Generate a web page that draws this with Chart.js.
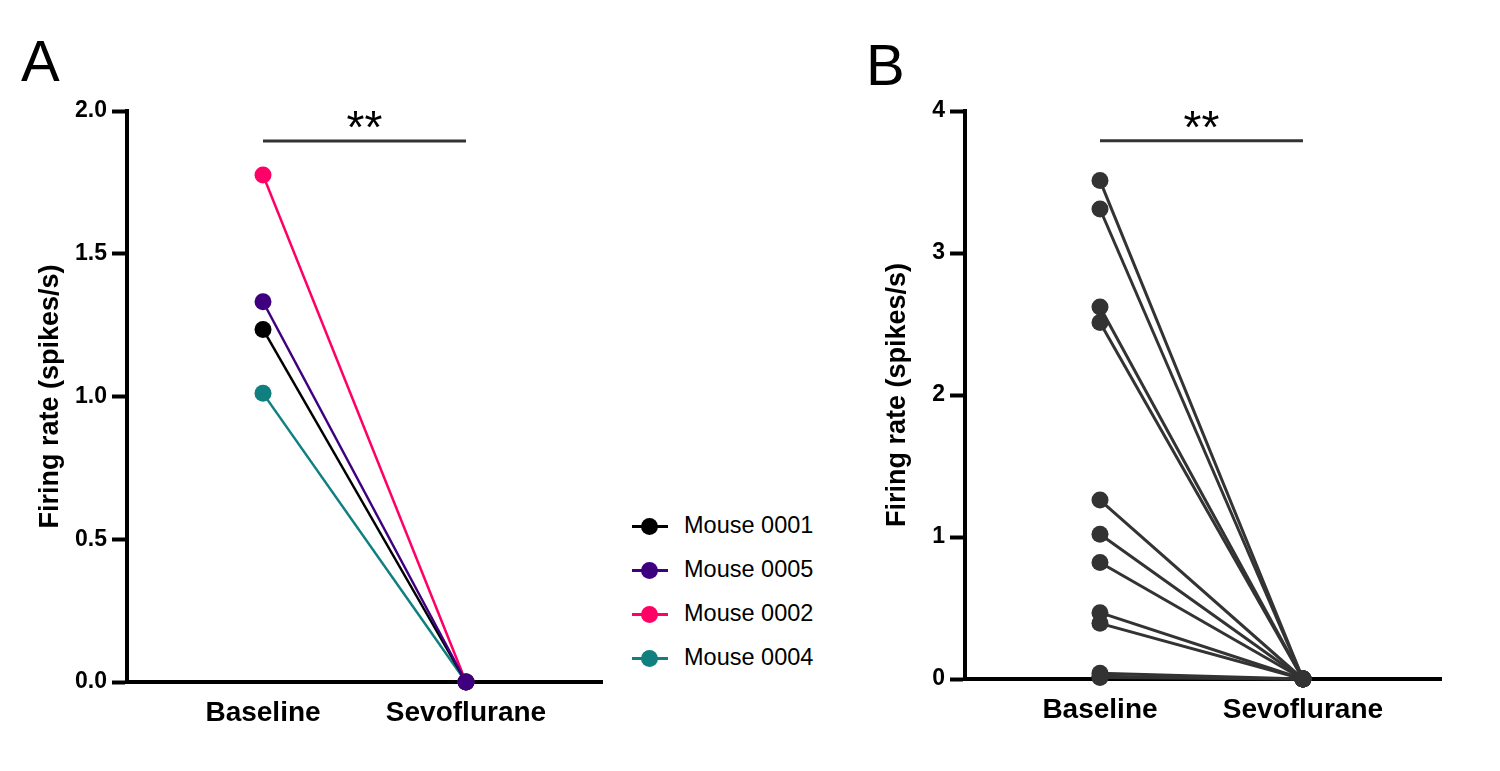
<!DOCTYPE html>
<html>
<head>
<meta charset="utf-8">
<script src="https://cdn.jsdelivr.net/npm/chart.js@4.4.1/dist/chart.umd.min.js"></script>
<style>
  body { margin: 0; background: #fff; font-family: "Liberation Sans", Arial, sans-serif; }
  #wrap { position: relative; width: 1500px; height: 771px; overflow: hidden; }
  canvas { position: absolute; top: 0; }
  #chartA { left: 0; }
  #chartB { left: 840px; }
  .panel { position: absolute; font-size: 58px; line-height: 1; color: #000; }
  #legend { position: absolute; left: 632px; top: 504px; }
  .item { position: relative; height: 44px; }
  .item .ln { position: absolute; left: 0; top: 21px; width: 36px; height: 3px; }
  .item .dot { position: absolute; left: 9px; top: 14px; width: 17px; height: 17px; border-radius: 50%; }
  .item .lbl { position: absolute; left: 52px; top: 8px; font-size: 23.5px; white-space: nowrap; }
</style>
</head>
<body>
<div id="wrap">
  <canvas id="chartA" width="620" height="771"></canvas>
  <canvas id="chartB" width="660" height="771"></canvas>
  <div class="panel" style="left:21px; top:32px;">A</div>
  <div class="panel" style="left:866px; top:36px;">B</div>
  <div id="legend"></div>
</div>
<script>
// conditions on the x axis
const categories = ["Baseline", "Sevoflurane"];

// panel A: mean firing rate per mouse
const mice = ["Mouse 0001", "Mouse 0005", "Mouse 0002", "Mouse 0004"];
const miceColors = ["#000000", "#3f007f", "#ff0066", "#0f7f7f"];
const miceBaseline = [1.235, 1.332, 1.776, 1.011];
const miceSevo = [0, 0, 0, 0];

// panel B: firing rate per neuron
const neuronBaseline = [3.51, 3.31, 2.62, 2.51, 1.26, 1.02, 0.82, 0.467, 0.392, 0.04, 0.02, 0.01];
const neuronSevo = [0, 0, 0, 0, 0, 0, 0, 0, 0, 0, 0, 0];

// tick labels
const ticksA = [0, 0.5, 1.0, 1.5, 2.0];
const ticksB = [0, 1, 2, 3, 4];

// significance marks (label, height on the y axis)
const sigLabel = "**";
const sigA = 1.895;
const sigB = 3.79;

const FONT = "'Liberation Sans', Arial, sans-serif";

function pairPoints(a, b) {
  return [{ x: 0, y: a }, { x: 1, y: b }];
}

const sigPlugin = {
  id: "sig",
  afterDraw(chart, args, opts) {
    const { ctx } = chart;
    const xs = chart.scales.x, ys = chart.scales.y;
    const x0 = xs.getPixelForValue(0), x1 = xs.getPixelForValue(1);
    const y = ys.getPixelForValue(opts.value);
    ctx.save();
    ctx.strokeStyle = "#333";
    ctx.lineWidth = 3;
    ctx.beginPath();
    ctx.moveTo(x0, y);
    ctx.lineTo(x1, y);
    ctx.stroke();
    ctx.fillStyle = "#000";
    ctx.font = "46px " + FONT;
    ctx.textAlign = "center";
    ctx.textBaseline = "alphabetic";
    ctx.fillText(sigLabel, (x0 + x1) / 2, y + 2);
    ctx.restore();
  }
};

function makeOptions(opt) {
  return {
    responsive: false,
    animation: false,
    devicePixelRatio: 1,
    layout: { padding: opt.padding },
    plugins: {
      legend: { display: false },
      tooltip: { enabled: false },
      sig: { value: opt.sig }
    },
    scales: {
      x: {
        type: "linear",
        min: opt.xMin,
        max: opt.xMax,
        afterFit(s) { s.height = 60; },
        afterBuildTicks(s) { s.ticks = [{ value: 0 }, { value: 1 }]; },
        grid: { display: true, drawOnChartArea: false, drawTicks: false },
        border: { display: true, width: 4, color: "#000" },
        ticks: {
          padding: 14,
          color: "#000",
          font: { family: FONT, size: 28, weight: "bold" },
          callback: (v) => categories[v]
        }
      },
      y: {
        min: opt.yTicks[0],
        max: opt.yTicks[opt.yTicks.length - 1],
        afterFit(s) { s.width = opt.yWidth; },
        afterBuildTicks(s) { s.ticks = opt.yTicks.map((v) => ({ value: v })); },
        grid: {
          display: true, drawOnChartArea: false, drawTicks: true,
          tickLength: 15, tickWidth: 4, tickColor: "#000"
        },
        border: { display: true, width: 4, color: "#000" },
        ticks: {
          padding: 5,
          color: "#000",
          font: { family: FONT, size: 23, weight: "bold" },
          callback: opt.yFormat
        },
        title: {
          display: true,
          text: "Firing rate (spikes/s)",
          color: "#000",
          padding: { top: 4, bottom: 0 },
          font: { family: FONT, size: 27, weight: "bold" }
        }
      }
    }
  };
}

// panel A
const dsA = mice.map((name, i) => ({
  label: name,
  data: pairPoints(miceBaseline[i], miceSevo[i]),
  borderColor: miceColors[i],
  backgroundColor: miceColors[i],
  pointBackgroundColor: miceColors[i],
  pointBorderWidth: 0,
  pointRadius: 8.5,
  borderWidth: 2.5,
  clip: false,
  order: name === "Mouse 0005" ? 0 : 1
}));

new Chart(document.getElementById("chartA"), {
  type: "line",
  data: { datasets: dsA },
  options: makeOptions({
    padding: { left: 30, right: 18, top: 111, bottom: 29 },
    yWidth: 97,
    xMin: -0.67, xMax: 1.67,
    yTicks: ticksA,
    yFormat: (v) => v.toFixed(1),
    sig: sigA
  }),
  plugins: [sigPlugin]
});

// panel B
const dsB = neuronBaseline.map((v, i) => ({
  label: "Neuron " + (i + 1),
  data: pairPoints(v, neuronSevo[i]),
  borderColor: "#333333",
  backgroundColor: "#333333",
  pointBackgroundColor: "#333333",
  pointBorderWidth: 0,
  pointRadius: 8.5,
  borderWidth: 3,
  clip: false
}));

new Chart(document.getElementById("chartB"), {
  type: "line",
  data: { datasets: dsB },
  options: makeOptions({
    padding: { left: 37, right: 59, top: 111, bottom: 32 },
    yWidth: 88,
    xMin: -0.665, xMax: 1.68,
    yTicks: ticksB,
    yFormat: (v) => String(v),
    sig: sigB
  }),
  plugins: [sigPlugin]
});

// legend for panel A
const legend = document.getElementById("legend");
mice.forEach((name, i) => {
  const row = document.createElement("div");
  row.className = "item";
  row.innerHTML = '<div class="ln"></div><div class="dot"></div><div class="lbl"></div>';
  row.querySelector(".ln").style.background = miceColors[i];
  row.querySelector(".dot").style.background = miceColors[i];
  row.querySelector(".lbl").textContent = name;
  legend.appendChild(row);
});
</script>
</body>
</html>
